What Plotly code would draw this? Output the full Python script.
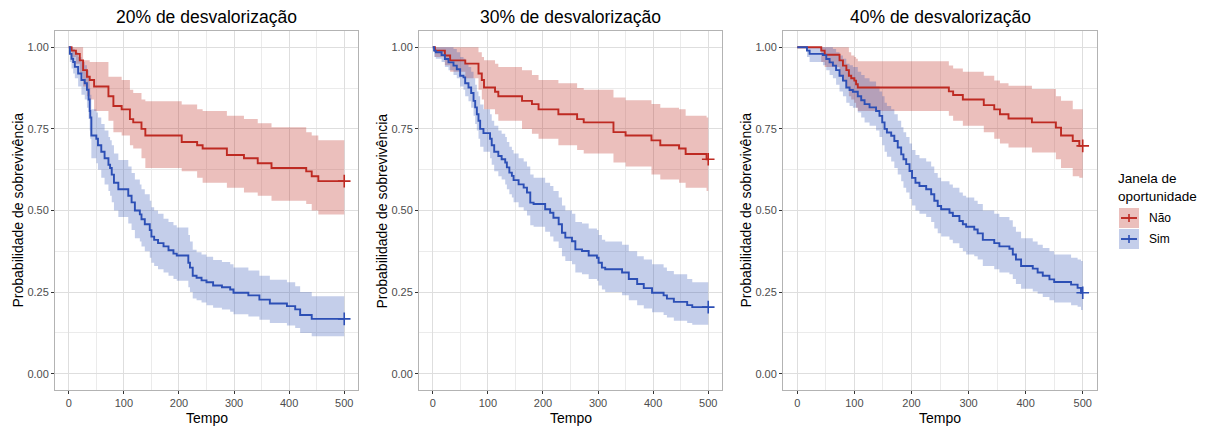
import plotly.graph_objects as go

W, H = 1209, 430

panel_titles = ["20% de desvalorização", "30% de desvalorização", "40% de desvalorização"]
group_names = ["Não", "Sim"]
legend_title = "Janela de<br>oportunidade"
x_title = "Tempo"
y_title = "Probabilidade de sobrevivência"
x_ticks = [0, 100, 200, 300, 400, 500]
y_ticks = [0.0, 0.25, 0.50, 0.75, 1.00]

# ---------- Panel 1: 20% ----------
p1_nao_t = [0, 5, 13, 20, 26, 33, 38, 46, 72, 81, 96, 111, 117, 132, 139, 205, 233, 243, 287, 318,
            343, 368, 431, 441, 453, 500]
p1_nao_s = [1.0, 0.99, 0.98, 0.96, 0.93, 0.91, 0.90, 0.88, 0.85, 0.82, 0.81, 0.78, 0.77, 0.75, 0.73,
            0.71, 0.70, 0.69, 0.67, 0.66, 0.645, 0.63, 0.62, 0.605, 0.59, 0.59]
p1_nao_up = [1.0, 1.0, 1.0, 1.0, 0.96, 0.96, 0.955, 0.955, 0.91, 0.91, 0.90, 0.87, 0.86, 0.84, 0.835,
             0.825, 0.81, 0.805, 0.79, 0.78, 0.767, 0.755, 0.74, 0.73, 0.715, 0.715]
p1_nao_lo = [1.0, 0.97, 0.95, 0.92, 0.88, 0.85, 0.84, 0.805, 0.775, 0.74, 0.73, 0.70, 0.69, 0.66, 0.63,
             0.62, 0.60, 0.585, 0.57, 0.555, 0.545, 0.53, 0.52, 0.50, 0.488, 0.488]

p1_sim_t = [0, 2, 5, 8, 11, 17, 23, 29, 33, 36, 38, 39, 41, 50, 53, 59, 65, 72, 75, 78,
            82, 90, 108, 114, 120, 129, 132, 138, 147, 150, 155, 162, 172, 181, 190, 196, 217, 220, 225, 232,
            241, 250, 262, 278, 293, 299, 326, 346, 365, 396, 411, 420, 441, 500]
p1_sim_s = [1.0, 0.98, 0.965, 0.955, 0.94, 0.92, 0.90, 0.89, 0.87, 0.84, 0.805, 0.785, 0.73, 0.72, 0.70,
            0.68, 0.66, 0.64, 0.63, 0.61, 0.585, 0.565, 0.545, 0.525, 0.50, 0.488, 0.473, 0.458, 0.44, 0.42,
            0.41, 0.40, 0.39, 0.378, 0.368, 0.362, 0.34, 0.325, 0.30, 0.294, 0.286, 0.28, 0.27, 0.265, 0.258,
            0.248, 0.24, 0.227, 0.215, 0.207, 0.197, 0.18, 0.168, 0.168]
p1_sim_up = [1.0, 1.0, 1.0, 0.995, 0.985, 0.97, 0.955, 0.945, 0.93, 0.905, 0.875, 0.855, 0.81, 0.80, 0.785,
             0.765, 0.745, 0.725, 0.715, 0.70, 0.675, 0.655, 0.635, 0.615, 0.595, 0.58, 0.565, 0.55, 0.53, 0.51,
             0.50, 0.49, 0.475, 0.465, 0.455, 0.448, 0.425, 0.405, 0.38, 0.372, 0.365, 0.358, 0.348, 0.342,
             0.335, 0.325, 0.316, 0.30, 0.288, 0.28, 0.268, 0.25, 0.237, 0.237]
p1_sim_lo = [1.0, 0.955, 0.935, 0.92, 0.905, 0.88, 0.855, 0.84, 0.815, 0.78, 0.745, 0.72, 0.66, 0.645, 0.625,
             0.60, 0.58, 0.56, 0.545, 0.525, 0.50, 0.48, 0.46, 0.44, 0.415, 0.405, 0.39, 0.375, 0.355, 0.34,
             0.33, 0.32, 0.31, 0.30, 0.29, 0.285, 0.265, 0.25, 0.23, 0.225, 0.218, 0.21, 0.202, 0.197, 0.19,
             0.182, 0.175, 0.165, 0.155, 0.148, 0.14, 0.125, 0.115, 0.115]

# ---------- Panel 2: 30% ----------
p2_nao_t = [0, 4, 22, 31.5, 59, 83, 89, 93, 113, 119, 162, 180, 192, 228, 262, 274, 328, 350, 397, 413,
            447, 459, 497, 500]
p2_nao_s = [1.0, 0.99, 0.975, 0.96, 0.95, 0.92, 0.90, 0.877, 0.864, 0.85, 0.836, 0.826, 0.81, 0.795, 0.78,
            0.77, 0.74, 0.73, 0.715, 0.70, 0.69, 0.673, 0.657, 0.657]
p2_nao_up = [1.0, 1.0, 1.0, 1.0, 1.0, 0.985, 0.97, 0.96, 0.95, 0.94, 0.93, 0.915, 0.90, 0.89, 0.875,
             0.87, 0.846, 0.838, 0.826, 0.815, 0.81, 0.79, 0.785, 0.785]
p2_nao_lo = [1.0, 0.97, 0.945, 0.925, 0.905, 0.87, 0.84, 0.81, 0.795, 0.775, 0.75, 0.735, 0.72, 0.70, 0.685,
             0.675, 0.647, 0.635, 0.61, 0.595, 0.585, 0.57, 0.56, 0.56]

p2_sim_t = [0, 2.4, 5.5, 16, 22, 28.5, 37.6, 43.6, 49.7, 55.8, 58.8, 64.8, 69.7, 74, 77, 80, 83, 86, 92, 104,
            107, 111.5, 119, 125, 131.5, 134.5, 139, 143.6, 146.7, 155.8, 165, 171, 177, 183, 204, 213, 219,
            228.5, 234.5, 240.6, 252.7, 258.8, 270.9, 283, 298, 301, 307, 313, 343.6, 355.8, 371, 383, 398,
            419, 425, 437.6, 461.8, 471, 500]
p2_sim_s = [1.0, 0.99, 0.985, 0.976, 0.964, 0.954, 0.944, 0.933, 0.913, 0.908, 0.89, 0.877, 0.86, 0.836,
            0.816, 0.795, 0.775, 0.75, 0.737, 0.72, 0.70, 0.68, 0.667, 0.657, 0.647, 0.632, 0.616, 0.606,
            0.593, 0.58, 0.57, 0.555, 0.524, 0.52, 0.504, 0.493, 0.478, 0.458, 0.432, 0.417, 0.406, 0.381,
            0.376, 0.362, 0.355, 0.34, 0.325, 0.32, 0.31, 0.29, 0.275, 0.262, 0.248, 0.24, 0.23, 0.22, 0.21,
            0.204, 0.204]
p2_sim_up = [1.0, 1.0, 1.0, 1.0, 1.0, 1.0, 0.995, 0.985, 0.97, 0.965, 0.95, 0.94, 0.925, 0.905, 0.885,
             0.865, 0.85, 0.825, 0.81, 0.795, 0.775, 0.76, 0.745, 0.735, 0.725, 0.71, 0.695, 0.685, 0.675,
             0.66, 0.65, 0.635, 0.61, 0.60, 0.585, 0.575, 0.56, 0.54, 0.515, 0.50, 0.49, 0.465, 0.46, 0.445,
             0.44, 0.425, 0.41, 0.405, 0.395, 0.375, 0.36, 0.35, 0.335, 0.325, 0.315, 0.305, 0.29, 0.28, 0.28]
p2_sim_lo = [1.0, 0.97, 0.965, 0.955, 0.94, 0.93, 0.915, 0.905, 0.88, 0.87, 0.85, 0.835, 0.815, 0.79,
             0.765, 0.745, 0.72, 0.695, 0.68, 0.66, 0.64, 0.62, 0.605, 0.595, 0.58, 0.565, 0.55, 0.54, 0.525,
             0.51, 0.50, 0.485, 0.455, 0.45, 0.435, 0.42, 0.405, 0.385, 0.36, 0.345, 0.335, 0.31, 0.305, 0.29,
             0.285, 0.27, 0.258, 0.25, 0.24, 0.225, 0.21, 0.2, 0.188, 0.18, 0.172, 0.162, 0.155, 0.15, 0.15]

# ---------- Panel 3: 40% ----------
p3_nao_t = [0, 42, 48, 74, 80, 86, 90.4, 94.5, 100, 103, 106, 265.5, 273, 290, 326.7, 345, 355, 370, 411,
            453, 462, 482.5, 494, 500]
p3_nao_s = [1.0, 0.99, 0.977, 0.96, 0.944, 0.93, 0.913, 0.905, 0.898, 0.887, 0.877, 0.865, 0.854, 0.84,
            0.823, 0.81, 0.795, 0.782, 0.77, 0.754, 0.73, 0.713, 0.698, 0.698]
p3_nao_up = [1.0, 1.0, 1.0, 1.0, 1.0, 1.0, 0.985, 0.975, 0.97, 0.965, 0.957, 0.944, 0.935, 0.925, 0.913,
             0.898, 0.89, 0.882, 0.872, 0.85, 0.836, 0.81, 0.81, 0.81]
p3_nao_lo = [1.0, 0.955, 0.94, 0.915, 0.895, 0.875, 0.85, 0.84, 0.83, 0.815, 0.805, 0.79, 0.775, 0.76,
             0.74, 0.72, 0.705, 0.693, 0.678, 0.657, 0.63, 0.605, 0.60, 0.60]

p3_sim_t = [0, 17, 21.6, 45, 50.8, 56.6, 62.4, 68, 74, 80, 85.8, 91.6, 97.4, 106, 112, 117.9, 126.6, 138,
            144, 148.8, 152.9, 157, 164.5, 170, 176, 182, 186, 190.8, 196.6, 201, 207, 214, 225.8, 234.5,
            240, 246, 252, 266.6, 272.5, 284, 290, 295.8, 310, 316, 325, 345, 354, 371.6, 377.5, 383, 392,
            412.5, 421, 430, 441.7, 450, 479.6, 491, 497, 500]
p3_sim_s = [1.0, 0.99, 0.98, 0.976, 0.964, 0.954, 0.944, 0.93, 0.913, 0.898, 0.877, 0.869, 0.864, 0.85,
            0.838, 0.826, 0.816, 0.805, 0.79, 0.77, 0.75, 0.739, 0.729, 0.713, 0.693, 0.672, 0.657, 0.642,
            0.621, 0.60, 0.585, 0.575, 0.565, 0.55, 0.53, 0.514, 0.504, 0.493, 0.483, 0.468, 0.458, 0.45,
            0.442, 0.43, 0.41, 0.40, 0.39, 0.383, 0.365, 0.35, 0.33, 0.322, 0.31, 0.30, 0.289, 0.281, 0.273,
            0.263, 0.248, 0.248]
p3_sim_up = [1.0, 1.0, 1.0, 1.0, 1.0, 1.0, 0.995, 0.985, 0.975, 0.965, 0.95, 0.945, 0.94, 0.925, 0.915,
             0.905, 0.895, 0.88, 0.865, 0.85, 0.83, 0.82, 0.81, 0.795, 0.775, 0.755, 0.74, 0.725, 0.705,
             0.685, 0.67, 0.66, 0.65, 0.635, 0.615, 0.60, 0.59, 0.58, 0.57, 0.555, 0.545, 0.54, 0.53, 0.52,
             0.50, 0.49, 0.48, 0.47, 0.45, 0.435, 0.415, 0.405, 0.395, 0.385, 0.375, 0.365, 0.355, 0.35,
             0.345, 0.345]
p3_sim_lo = [1.0, 0.97, 0.955, 0.945, 0.93, 0.915, 0.905, 0.885, 0.865, 0.85, 0.83, 0.82, 0.815, 0.80,
             0.785, 0.77, 0.76, 0.745, 0.725, 0.70, 0.68, 0.665, 0.65, 0.63, 0.61, 0.59, 0.57, 0.555, 0.535,
             0.515, 0.50, 0.49, 0.48, 0.465, 0.445, 0.43, 0.42, 0.41, 0.40, 0.385, 0.375, 0.365, 0.36, 0.35,
             0.33, 0.32, 0.31, 0.305, 0.29, 0.275, 0.26, 0.252, 0.245, 0.235, 0.225, 0.218, 0.21, 0.205,
             0.195, 0.195]

panels = [
    [(p1_nao_t, p1_nao_s, p1_nao_lo, p1_nao_up), (p1_sim_t, p1_sim_s, p1_sim_lo, p1_sim_up)],
    [(p2_nao_t, p2_nao_s, p2_nao_lo, p2_nao_up), (p2_sim_t, p2_sim_s, p2_sim_lo, p2_sim_up)],
    [(p3_nao_t, p3_nao_s, p3_nao_lo, p3_nao_up), (p3_sim_t, p3_sim_s, p3_sim_lo, p3_sim_up)],
]

# ---------- styling ----------
FONT = "Liberation Sans, Arial, sans-serif"
line_colors = ["#BE2A22", "#2C4FB5"]
fill_colors = ["rgba(190,42,34,0.30)", "rgba(44,79,181,0.28)"]

# panel pixel boxes (left, right); shared top/bottom
panel_px = [(55, 358), (419, 722), (783, 1097)]
top_px, bot_px = 31, 390

def px_x(p):
    return p / W

def px_y(p):
    return 1 - p / H

fig = go.Figure()

for i, groups in enumerate(panels):
    xa = "x" if i == 0 else f"x{i+1}"
    ya = "y" if i == 0 else f"y{i+1}"
    # ribbons
    for g, (t, s, lo, up) in enumerate(groups):
        fig.add_trace(go.Scatter(x=t, y=lo, mode="lines", line=dict(width=0, shape="hv"),
                                 hoverinfo="skip", showlegend=False, xaxis=xa, yaxis=ya))
        fig.add_trace(go.Scatter(x=t, y=up, mode="lines", line=dict(width=0, shape="hv"),
                                 fill="tonexty", fillcolor=fill_colors[g],
                                 hoverinfo="skip", showlegend=False, xaxis=xa, yaxis=ya))
    # lines + censor marks
    for g, (t, s, lo, up) in enumerate(groups):
        fig.add_trace(go.Scatter(x=t, y=s, mode="lines", name=group_names[g],
                                 line=dict(color=line_colors[g], width=1.9, shape="hv"),
                                 showlegend=False, xaxis=xa, yaxis=ya))
        fig.add_trace(go.Scatter(x=[t[-1]], y=[s[-1]], mode="markers",
                                 marker=dict(symbol="cross-thin", size=9,
                                             line=dict(color=line_colors[g], width=1.6)),
                                 showlegend=False, hoverinfo="skip", xaxis=xa, yaxis=ya))

axis_common = dict(
    showline=True, mirror=True, linecolor="#B3B3B3", linewidth=1,
    showgrid=True, gridcolor="#DEDEDE", gridwidth=1, zeroline=False,
    ticks="outside", ticklen=3, tickcolor="#333333", tickwidth=1,
    tickfont=dict(family=FONT, size=11, color="#4D4D4D"),
)

layout = dict(
    width=W, height=H, margin=dict(l=0, r=0, t=0, b=0),
    paper_bgcolor="white", plot_bgcolor="white", showlegend=False,
    font=dict(family=FONT, color="black"),
)

annotations = []
for i, (l, r) in enumerate(panel_px):
    k = "" if i == 0 else str(i + 1)
    layout["xaxis" + k] = dict(
        axis_common, domain=[px_x(l), px_x(r)], range=[-25, 525],
        tickvals=x_ticks, ticktext=[str(v) for v in x_ticks], anchor="y" + k,
        minor=dict(showgrid=True, gridcolor="#EBEBEB", gridwidth=1, dtick=50, tick0=0, ticks=""),
    )
    layout["yaxis" + k] = dict(
        axis_common, domain=[px_y(bot_px), px_y(top_px)], range=[-0.05, 1.05],
        tickvals=y_ticks, ticktext=[f"{v:.2f}" for v in y_ticks], anchor="x" + k,
        minor=dict(showgrid=True, gridcolor="#EBEBEB", gridwidth=1, dtick=0.125, tick0=0, ticks=""),
    )
    cx = (l + r) / 2
    annotations.append(dict(text=panel_titles[i], x=px_x(cx), y=px_y(17), xref="paper", yref="paper",
                            showarrow=False, xanchor="center", yanchor="middle",
                            font=dict(family=FONT, size=17.5, color="black")))
    annotations.append(dict(text=x_title, x=px_x(cx), y=px_y(418), xref="paper", yref="paper",
                            showarrow=False, xanchor="center", yanchor="middle",
                            font=dict(family=FONT, size=14, color="black")))
    annotations.append(dict(text=y_title, x=px_x(l - 38), y=px_y((top_px + bot_px) / 2),
                            xref="paper", yref="paper", textangle=-90,
                            showarrow=False, xanchor="center", yanchor="middle",
                            font=dict(family=FONT, size=14, color="black")))

# legend (ggplot-style keys)
annotations.append(dict(text=legend_title, x=px_x(1116), y=px_y(187), xref="paper", yref="paper",
                        showarrow=False, xanchor="left", yanchor="middle", align="left",
                        font=dict(family=FONT, size=13.5, color="black")))
shapes = []
key_rows = [218, 239]
for g, cy in enumerate(key_rows):
    shapes.append(dict(type="rect", xref="paper", yref="paper",
                       x0=px_x(1119), x1=px_x(1139), y0=px_y(cy - 10), y1=px_y(cy + 10),
                       fillcolor=fill_colors[g], line=dict(width=0)))
    shapes.append(dict(type="line", xref="paper", yref="paper",
                       x0=px_x(1121), x1=px_x(1137), y0=px_y(cy), y1=px_y(cy),
                       line=dict(color=line_colors[g], width=1.9)))
    shapes.append(dict(type="line", xref="paper", yref="paper",
                       x0=px_x(1129), x1=px_x(1129), y0=px_y(cy - 4), y1=px_y(cy + 4),
                       line=dict(color=line_colors[g], width=1.6)))
    annotations.append(dict(text=group_names[g], x=px_x(1147), y=px_y(cy), xref="paper", yref="paper",
                            showarrow=False, xanchor="left", yanchor="middle",
                            font=dict(family=FONT, size=12, color="black")))

layout["annotations"] = annotations
layout["shapes"] = shapes
fig.update_layout(**layout)

fig.write_html("out.html")
